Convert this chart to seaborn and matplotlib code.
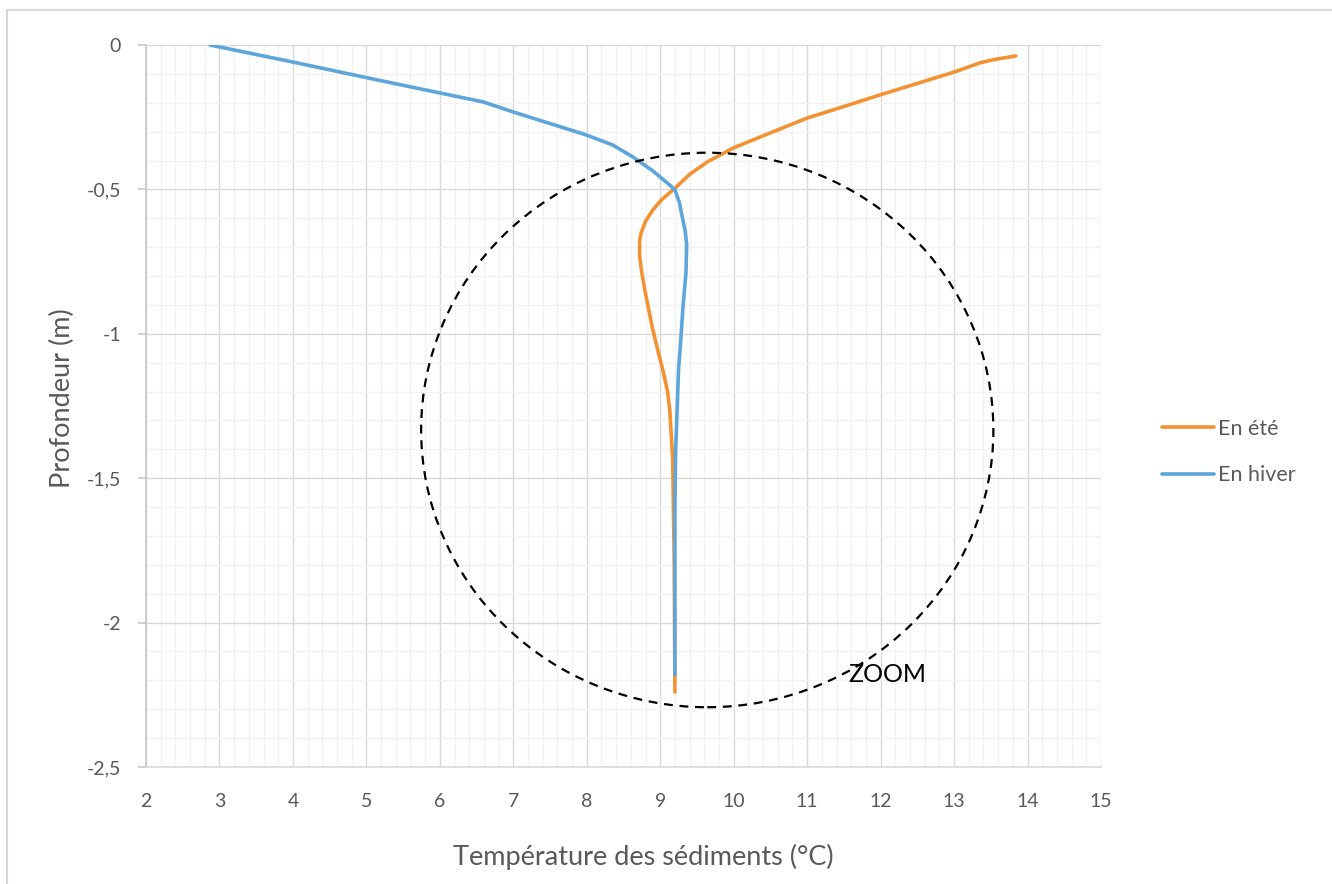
import numpy as np
import pandas as pd
import matplotlib
matplotlib.use("Agg")
import matplotlib.pyplot as plt
from matplotlib.patches import Ellipse, Rectangle
from matplotlib.ticker import MultipleLocator, FuncFormatter
import seaborn as sns

# ---- data ----
ete_temp = [13.84, 13.55, 13.35, 13.01, 12.5, 11.99, 11.5, 11.0, 10.54, 9.99, 9.64, 9.40, 9.20, 9.02,
            8.90, 8.80, 8.74, 8.72, 8.72, 8.75, 8.79, 8.89, 8.97, 9.04, 9.10, 9.13, 9.17, 9.19, 9.20]
ete_depth = [-0.038, -0.05, -0.062, -0.093, -0.133, -0.173, -0.213, -0.253, -0.30, -0.357, -0.405,
             -0.448, -0.496, -0.535, -0.571, -0.61, -0.651, -0.675, -0.733, -0.79, -0.848, -0.976,
             -1.06, -1.13, -1.20, -1.264, -1.437, -1.783, -2.24]
hiver_temp = [2.87, 4.0, 5.0, 6.0, 6.59, 7.0, 7.5, 8.0, 8.35, 8.63, 8.90, 9.13, 9.20, 9.26, 9.30,
              9.34, 9.36, 9.35, 9.31, 9.28, 9.25, 9.23, 9.21, 9.20, 9.20]
hiver_depth = [0.0, -0.059, -0.113, -0.166, -0.197, -0.232, -0.272, -0.312, -0.346, -0.388, -0.436,
               -0.485, -0.502, -0.545, -0.595, -0.645, -0.69, -0.79, -0.906, -1.02, -1.12, -1.264,
               -1.40, -1.60, -2.18]
series_names = ["En été", "En hiver"]
zoom_center = (9.64, -1.333)
zoom_size = (7.79, 1.92)

df = pd.concat([
    pd.DataFrame({"temp": ete_temp, "depth": ete_depth, "saison": series_names[0]}),
    pd.DataFrame({"temp": hiver_temp, "depth": hiver_depth, "saison": series_names[1]}),
], ignore_index=True)

sns.set_theme(style="white")
plt.rcParams["font.family"] = ["Lato", "DejaVu Sans"]

fig = plt.figure(figsize=(13.32, 8.84), dpi=100)
ax = fig.add_axes([146 / 1332, 1 - 767 / 884, (1101 - 146) / 1332, (767 - 45) / 884])

# outer border
fig.patches.append(Rectangle((7 / 1332, -0.01), 1.05, 1 - 10 / 884 + 0.01, transform=fig.transFigure,
                             fill=False, edgecolor="#d9d9d9", linewidth=1.5, zorder=0))

ax.set_xlim(2, 15)
ax.set_ylim(-2.5, 0)
ax.xaxis.set_major_locator(MultipleLocator(1))
ax.xaxis.set_minor_locator(MultipleLocator(0.2))
ax.yaxis.set_major_locator(MultipleLocator(0.5))
ax.yaxis.set_minor_locator(MultipleLocator(0.1))
ax.grid(which="minor", color="#f2f2f2", linewidth=1.0)
ax.grid(which="major", color="#d9d9d9", linewidth=1.0)
ax.set_axisbelow(True)

for s in ["top", "right"]:
    ax.spines[s].set_visible(False)
ax.spines["left"].set_color("#c8c8c8")
ax.spines["bottom"].set_color("#d9d9d9")
ax.spines["left"].set_linewidth(1.2)
ax.spines["bottom"].set_linewidth(1.2)

fmt = FuncFormatter(lambda v, p: ("%g" % v).replace(".", ","))
ax.xaxis.set_major_formatter(fmt)
ax.yaxis.set_major_formatter(fmt)
ax.tick_params(axis="y", which="major", left=True, length=6, color="#c8c8c8", width=1.2,
               labelsize=14, labelcolor="#595959", pad=12)
ax.tick_params(axis="x", which="major", bottom=False, labelsize=14, labelcolor="#595959", pad=13)
ax.tick_params(which="minor", left=False, bottom=False)

palette = {series_names[0]: "#F39233", series_names[1]: "#5DA5DA"}
sns.lineplot(data=df, x="temp", y="depth", hue="saison", sort=False, estimator=None,
             palette=palette, linewidth=2.6, ax=ax, legend=True)

ax.add_patch(Ellipse(zoom_center, zoom_size[0], zoom_size[1], fill=False, edgecolor="black",
                     linestyle=(0, (4, 3)), linewidth=1.6, zorder=3))
ax.text(11.56, -2.18, "ZOOM", fontsize=18, color="black", va="center", ha="left", zorder=4)

ax.set_xlabel("Température des sédiments (°C)", fontsize=19.5, color="#595959")
ax.set_ylabel("Profondeur (m)", fontsize=19.5, color="#595959")
ax.xaxis.set_label_coords((643 - 146) / 955, -(857 - 767) / 722)
ax.xaxis.label.set_va("center")
ax.yaxis.set_label_coords((62 - 146) / 955, (767 - 398) / 722)
ax.yaxis.label.set_va("center")

leg = ax.legend(loc="center left", bbox_to_anchor=(1143 / 1332, 1 - 452 / 884),
                bbox_transform=fig.transFigure, frameon=False, fontsize=15.5, handlelength=2.4,
                handletextpad=0.2, labelspacing=1.25)
for t in leg.get_texts():
    t.set_color("#595959")

fig.savefig("out.png", dpi=100)
